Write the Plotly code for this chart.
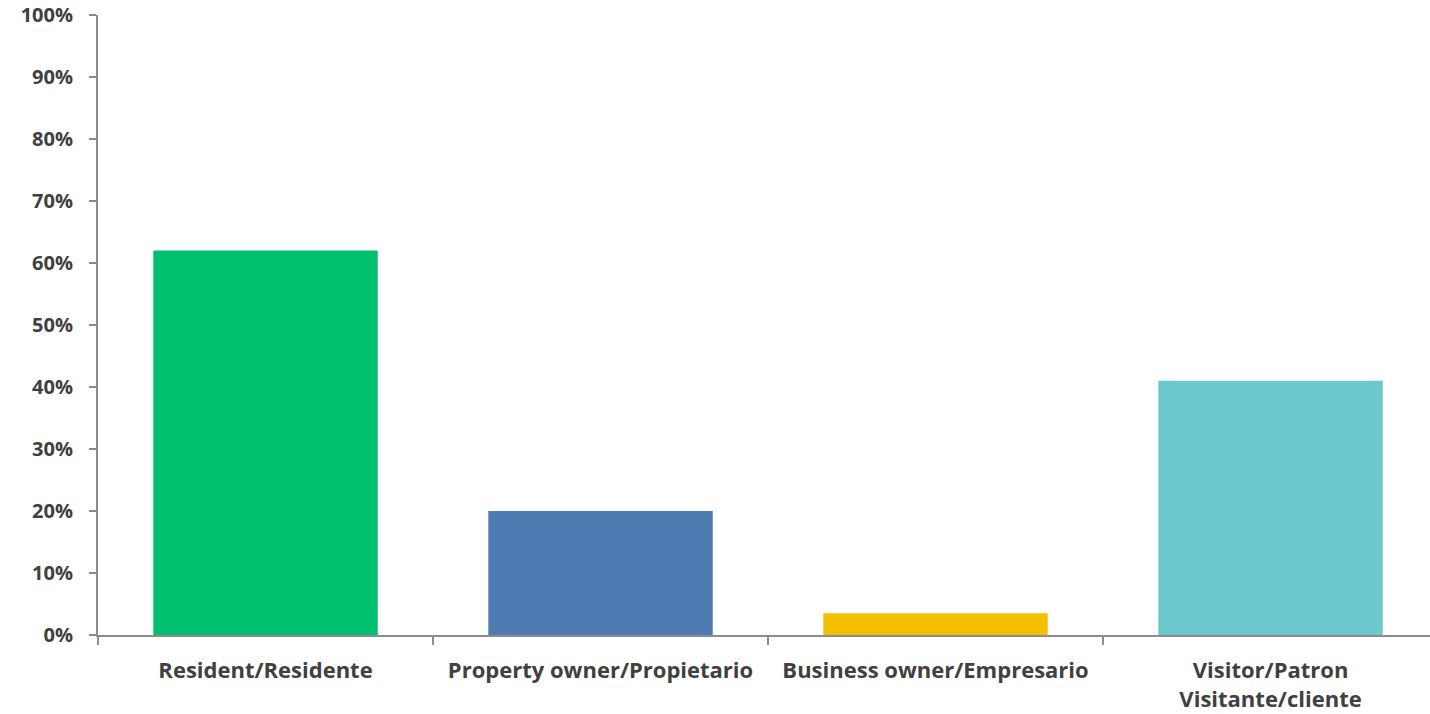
import plotly.graph_objects as go

categories = ["Resident/Residente", "Property owner/Propietario", "Business owner/Empresario", "Visitor/Patron<br>Visitante/cliente"]
values = [0.62, 0.20, 0.035, 0.41]
colors = ["#00BF6F", "#4F7BB3", "#F5BF00", "#6BC8CC"]
y_ticks = [i / 10 for i in range(11)]

font_family = "'Open Sans', sans-serif"
txt = "#404040"
axis_col = "#8C8C8C"

fig = go.Figure(go.Bar(x=categories, y=values, marker=dict(color=colors, line=dict(width=0)), width=0.67))

fig.update_layout(
    width=1430, height=714,
    margin=dict(l=98, r=0, t=15, b=79),
    paper_bgcolor="white", plot_bgcolor="white",
    showlegend=False,
    font=dict(family=font_family, size=20, color=txt),
)
fig.update_xaxes(
    range=[-0.5, 3.476], tickson="boundaries", ticks="outside", ticklen=8, tickwidth=2, tickcolor=axis_col,
    showline=True, linecolor=axis_col, linewidth=2, showgrid=False, automargin=False,
    tickfont=dict(family=font_family, size=22, color=txt, weight="bold"), ticklabelstandoff=15,
)
fig.update_yaxes(
    range=[0, 1], tickvals=y_ticks, tickformat=".0%", ticks="outside", ticklen=7, tickwidth=2, tickcolor=axis_col,
    showline=True, linecolor=axis_col, linewidth=2, showgrid=False, zeroline=False, automargin=False,
    tickfont=dict(family=font_family, size=20, color=txt, weight="bold"), ticklabelstandoff=12,
)

fig.write_html(
    "out.html",
    config={"displayModeBar": False},
    post_script="document.body.style.margin='0';document.body.style.overflow='hidden';",
)
